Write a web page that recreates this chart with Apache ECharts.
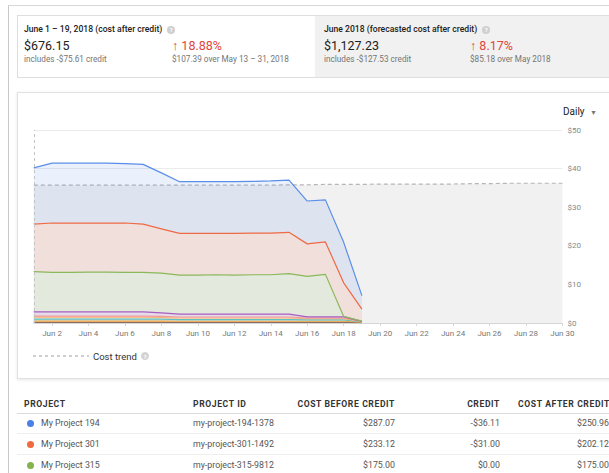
<!DOCTYPE html>
<html>
<head>
<meta charset="utf-8">
<script src="https://cdn.jsdelivr.net/npm/echarts@6/dist/echarts.min.js"></script>
<style>
  html, body { margin:0; padding:0; width:609px; height:473px; overflow:hidden; background:#fff; font-family: Roboto, "Noto Sans", Arial, sans-serif; color:#212121; }
  .abs { position:absolute; }
  #frame { left:8px; top:5px; width:700px; height:600px; border-left:1px solid #c8c8c8; border-top:1px solid #d8d8d8; }
  #topcard { left:17px; top:15px; width:700px; height:61px; border:1px solid #dedede; background:#fff; }
  #rightpane { left:315px; top:16px; width:400px; height:61px; background:#f1f1f1; }
  .ttl { font-size:8.6px; font-weight:500; color:#212121; white-space:nowrap; }
  .big { font-size:12.5px; color:#212121; white-space:nowrap; }
  .sub { font-size:8.2px; color:#757575; white-space:nowrap; }
  .red { font-size:12.5px; color:#e0453a; white-space:nowrap; }
  .red b { font-weight:700; }
  .help { display:inline-block; width:8px; height:8px; border-radius:50%; background:#cfcfcf; color:#fff; font-size:6px; line-height:8px; text-align:center; vertical-align:middle; margin-left:5px; font-weight:700; }
  #chartcard { left:17px; top:92px; width:700px; height:285px; border:1px solid #e2e2e2; box-shadow:0 1px 3px rgba(0,0,0,0.10); background:#fff; }
  #chart { left:0; top:0; width:609px; height:473px; }
  .th { font-size:8.6px; font-weight:700; color:#333; white-space:nowrap; letter-spacing:0.6px; }
  .td { font-size:8.8px; color:#555; white-space:nowrap; }
  .r { text-align:right; }
  .hline { left:17px; width:700px; height:1px; }
  .dot { width:7px; height:7px; border-radius:50%; }
</style>
</head>
<body>
<div id="frame" class="abs"></div>
<div id="topcard" class="abs"></div>
<div id="rightpane" class="abs"></div>

<div class="abs ttl" style="left:24px; top:24px;">June 1 – 19, 2018 (cost after credit)<span class="help">?</span></div>
<div class="abs big" style="left:24px; top:38px;">$676.15</div>
<div class="abs sub" style="left:24px; top:54px;">includes -$75.61 credit</div>
<div class="abs red" style="left:172px; top:38px;"><b>↑</b> 18.88%</div>
<div class="abs sub" style="left:172px; top:54px;">$107.39 over May 13 – 31, 2018</div>

<div class="abs ttl" style="left:324px; top:24px;">June 2018 (forecasted cost after credit)<span class="help">?</span></div>
<div class="abs big" style="left:324px; top:38px;">$1,127.23</div>
<div class="abs sub" style="left:324px; top:54px;">includes -$127.53 credit</div>
<div class="abs red" style="left:470px; top:38px;"><b>↑</b> 8.17%</div>
<div class="abs sub" style="left:470px; top:54px;">$85.18 over May 2018</div>

<div id="chartcard" class="abs"></div>
<div class="abs" style="left:563px; top:106px; font-size:10px; color:#212121;">Daily <span style="font-size:7px; color:#777; margin-left:3px;">▼</span></div>

<div class="abs th" style="left:24px; top:399px;">PROJECT</div>
<div class="abs th" style="left:193px; top:399px;">PROJECT ID</div>
<div class="abs th r" style="left:250px; width:145px; top:399px;">COST BEFORE CREDIT</div>
<div class="abs th r" style="left:400px; width:100px; top:399px;">CREDIT</div>
<div class="abs th r" style="left:500px; width:110px; top:399px;">COST AFTER CREDIT</div>
<div class="abs hline" style="top:413px; background:#dcdcdc;"></div>

<div id="rows"></div>

<div id="chart" class="abs"></div>

<script>
// ---------- data ----------
const days = ['Jun 1','Jun 2','Jun 3','Jun 4','Jun 5','Jun 6','Jun 7','Jun 8','Jun 9','Jun 10',
  'Jun 11','Jun 12','Jun 13','Jun 14','Jun 15','Jun 16','Jun 17','Jun 18','Jun 19','Jun 20',
  'Jun 21','Jun 22','Jun 23','Jun 24','Jun 25','Jun 26','Jun 27','Jun 28','Jun 29','Jun 30'];
const yTicks = [0, 10, 20, 30, 40, 50];

const costTrend = [35.7,35.7,35.7,35.7,35.7,35.7,35.7,35.7,35.7,35.7,35.7,35.7,35.7,35.7,35.8,
  35.8,35.9,35.9,35.9,36.0,36.0,36.0,36.0,36.0,36.1,36.1,36.2,36.2,36.2,36.2];

const otherA = [0.15,0.15,0.15,0.15,0.15,0.15,0.15,0.15,0.15,0.15,0.15,0.15,0.15,0.15,0.15,0.15,0.15,0.15,0.1];
const otherB = [0.35,0.35,0.35,0.35,0.35,0.35,0.35,0.35,0.3,0.3,0.3,0.3,0.3,0.3,0.3,0.3,0.3,0.3,0.1];
const otherC = [0.5,0.5,0.5,0.5,0.5,0.5,0.5,0.48,0.45,0.45,0.45,0.45,0.45,0.45,0.45,0.35,0.35,0.35,0.1];
const otherD = [0.5,0.5,0.5,0.5,0.5,0.5,0.5,0.45,0.4,0.4,0.4,0.4,0.4,0.4,0.4,0.3,0.3,0.3,0.05];
const otherE = [0.3,0.3,0.3,0.3,0.3,0.3,0.3,0.27,0.25,0.25,0.25,0.25,0.25,0.25,0.25,0.2,0.2,0.2,0.03];
const otherF = [1.1,1.1,1.1,1.1,1.1,1.1,1.1,0.9,0.75,0.75,0.75,0.75,0.75,0.75,0.75,0.3,0.3,0.3,0.02];
const project315 = [10.4,10.2,10.2,10.3,10.3,10.2,10.2,10.3,10.1,10.1,10.2,10.1,10.2,10.2,10.5,10.5,11.0,0.1,0.1];
const project301 = [12.3,12.8,12.8,12.7,12.7,12.8,12.5,11.5,10.8,10.8,10.7,10.8,10.8,10.8,10.7,8.4,8.4,8.7,3.1];
const project194 = [14.6,15.5,15.5,15.5,15.5,15.4,15.5,14.5,13.4,13.4,13.4,13.4,13.4,13.5,13.5,11.1,10.9,10.5,3.5];

const tableRows = [
  ['My Project 194','my-project-194-1378','$287.07','-$36.11','$250.96','#4a7fe6'],
  ['My Project 301','my-project-301-1492','$233.12','-$31.00','$202.12','#ee6a3f'],
  ['My Project 315','my-project-315-9812','$175.00','$0.00','$175.00','#83b24e']
];

// ---------- table ----------
(function(){
  const host = document.getElementById('rows');
  let html = '';
  tableRows.forEach((r, i) => {
    const top = 418 + i * 21;
    html += `<div class="abs dot" style="left:27px; top:${top+2}px; background:${r[5]};"></div>`;
    html += `<div class="abs td" style="left:41px; top:${top}px;">${r[0]}</div>`;
    html += `<div class="abs td" style="left:193px; top:${top}px;">${r[1]}</div>`;
    html += `<div class="abs td r" style="left:250px; width:145px; top:${top}px;">${r[2]}</div>`;
    html += `<div class="abs td r" style="left:400px; width:100px; top:${top}px;">${r[3]}</div>`;
    html += `<div class="abs td r" style="left:500px; width:109px; top:${top}px;">${r[4]}</div>`;
    if (i < tableRows.length - 1) html += `<div class="abs hline" style="top:${top+15}px; background:#eeeeee;"></div>`;
  });
  host.innerHTML = html;
})();

// ---------- chart ----------
const chart = echarts.init(document.getElementById('chart'), null, {renderer:'svg'});
function stacked(name, data, color, opacity) {
  return {
    name, type:'line', stack:'total', data, showSymbol:false, symbol:'none',
    lineStyle:{color, width:1.2}, itemStyle:{color},
    areaStyle:{color, opacity: opacity}, emphasis:{disabled:true}
  };
}
chart.setOption({
  animation:false,
  backgroundColor:'transparent',
  grid:{left:33.8, right:46.6, top:130, bottom:150, containLabel:false},
  xAxis:{
    type:'category', data:days, boundaryGap:false,
    axisLine:{show:true, lineStyle:{color:'#d6d6d6'}},
    axisTick:{show:true, interval:(i)=> i % 2 === 1, length:3, lineStyle:{color:'#d6d6d6'}},
    axisLabel:{interval:(i)=> i % 2 === 1, color:'#777', fontSize:8, margin:6, fontFamily:'Roboto'},
    splitLine:{show:false}
  },
  yAxis:{
    type:'value', position:'right', min:yTicks[0], max:yTicks[yTicks.length-1], interval:10,
    axisLine:{show:false}, axisTick:{show:false},
    axisLabel:{formatter:(v)=>'$'+v, color:'#888', fontSize:8, margin:5, fontFamily:'Roboto'},
    splitLine:{lineStyle:{color:'#ebebeb', width:1}}
  },
  series:[
    {
      name:'Cost trend', type:'line', data:costTrend, showSymbol:false, symbol:'none',
      lineStyle:{color:'#b5b5b5', width:1.2, type:[4,3]},
      areaStyle:{color:'#f1f1f1', opacity:1},
      markLine:{symbol:'none', silent:true, label:{show:false},
        lineStyle:{color:'#c4c4c4', type:[3,3], width:1},
        data:[{xAxis:0}]},
      z:1
    },
    stacked('Other A', otherA, '#8d6e63', 0.25),
    stacked('Other B', otherB, '#f2a541', 0.25),
    stacked('Other C', otherC, '#5fc0c0', 0.2),
    stacked('Other D', otherD, '#f7b777', 0.2),
    stacked('Other E', otherE, '#f19a9a', 0.2),
    stacked('Other F', otherF, '#a65fc0', 0.15),
    stacked('My Project 315', project315, '#8ab85a', 0.13),
    stacked('My Project 301', project301, '#ee6a45', 0.13),
    stacked('My Project 194', project194, '#5a8ee8', 0.13)
  ],
  graphic:[
    {type:'line', shape:{x1:33, y1:356, x2:89, y2:356}, style:{stroke:'#9e9e9e', lineWidth:1, lineDash:[3,3]}},
    {type:'text', x:93, y:351, style:{text:'Cost trend', fill:'#333', fontSize:9.5, fontFamily:'Roboto'}},
    {type:'circle', shape:{cx:145, cy:356, r:4}, style:{fill:'#d2d2d2'}},
    {type:'text', x:145, y:356, style:{text:'?', fill:'#fff', fontSize:6, fontWeight:'bold', align:'center', verticalAlign:'middle', fontFamily:'Roboto'}}
  ]
});
</script>
</body>
</html>
